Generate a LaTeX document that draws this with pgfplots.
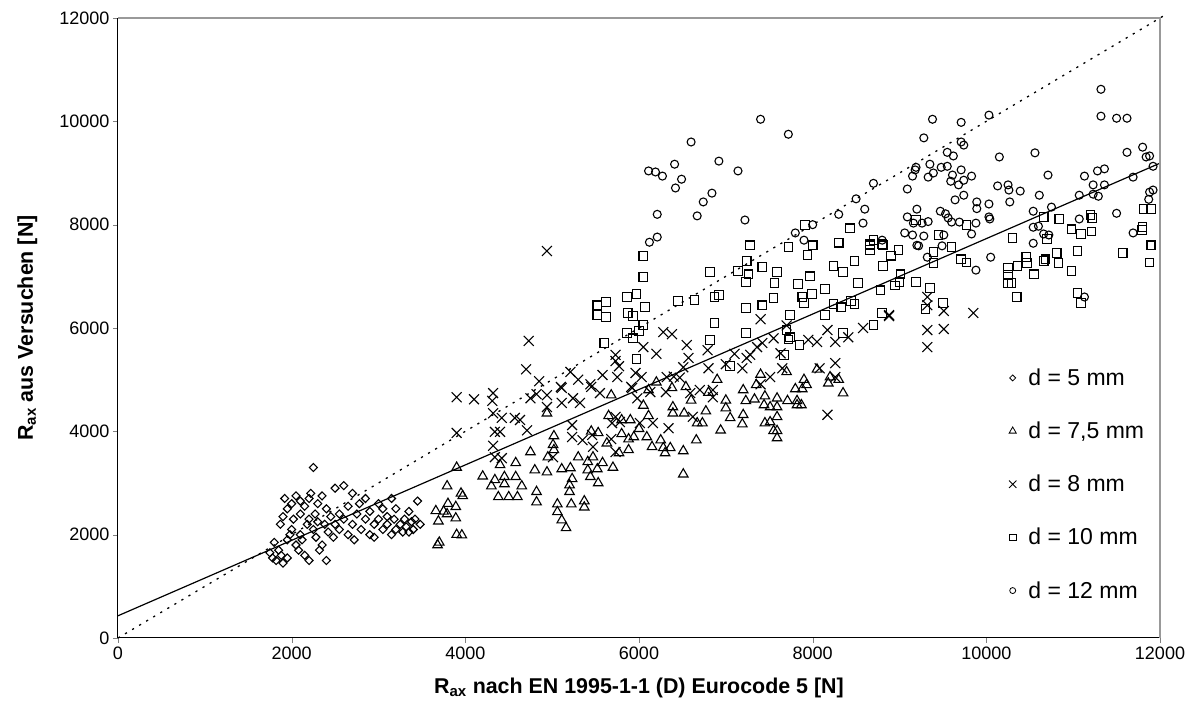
\documentclass[border=0pt]{standalone}
\usepackage{fontspec}
\setmainfont{Liberation Sans}
\usepackage{pgfplots}
\pgfplotsset{compat=1.18}
\begin{document}
\begin{tikzpicture}
\begin{axis}[
  scale only axis, width=1042pt, height=620pt,
  xmin=0, xmax=12000, ymin=0, ymax=12000,
  axis lines=left, axis line style={-, line width=1pt},
  tick align=outside, major tick length=5pt,
  xtick={0,2000,...,12000}, ytick={0,2000,...,12000},
  scaled ticks=false,
  /pgf/number format/1000 sep={},
  /pgf/number format/assume math mode=true,
  tick label style={font=\fontsize{18}{21}\selectfont},
  clip=false,
  every axis y label/.style={at={(axis description cs:-0.087,0.5)}, rotate=90, anchor=center},
  every axis x label/.style={at={(axis description cs:0.5,-0.081)}, anchor=center},
  xlabel={\fontsize{21.4}{25}\selectfont\bfseries R\textsubscript{ax} nach EN 1995-1-1 (D) Eurocode 5 [N]},
  ylabel={\fontsize{21.4}{25}\selectfont\bfseries R\textsubscript{ax} aus Versuchen [N]},
  legend style={draw=none, fill=none, at={(axis description cs:0.852,0.248)}, anchor=west,
    font=\fontsize{23}{26}\selectfont, row sep=31pt, legend cell align=left,
    /tikz/every odd column/.append style={column sep=10pt}},
  legend image code/.code={\draw[mark repeat=2,mark phase=2,#1,mark size=0.75*\pgfplotmarksize,line width=0.8pt] plot coordinates {(0pt,0pt) (6pt,0pt) (12pt,0pt)};},
]
% d = 5 mm
\addplot[only marks, mark=diamond, mark size=4pt, mark options={xscale=1.33}, line width=1.1pt] coordinates {
(1750,1650)(1780,1550)(1800,1850)(1820,1500)(1850,1700)(1870,2200)(1880,1600)(1900,1450)(1900,2350)(1920,2700)
(1950,2500)(1950,1550)(1980,2000)(2000,2100)(2000,2600)(2020,2300)(2050,1800)(2050,2750)(2080,1700)(2100,2400)
(2100,2000)(2120,1900)(2150,1600)(2150,2550)(2180,2200)(2200,2300)(2200,2700)(2220,2800)(2250,3300)(2250,2100)
(2270,2400)(2280,1950)(2300,2250)(2300,2600)(2320,1700)(2350,1800)(2350,2750)(2380,2200)(2400,2500)(2420,2050)
(2450,2350)(2480,1950)(2500,2900)(2500,2200)(2550,2100)(2550,2400)(2600,2300)(2650,2000)(2650,2550)(2700,2200)
(2700,2800)(2720,1900)(2750,2400)(2780,2600)(2800,2100)(2850,2300)(2850,2700)(2900,2000)(2900,2450)(2950,2200)
(2950,1950)(3000,2600)(3000,2300)(3050,2100)(3050,2500)(3100,2200)(3100,2350)(3150,2000)(3180,2300)(3200,2100)
(3200,2500)(3250,2200)(3280,2050)(3300,2300)(3320,2150)(3350,2450)(3380,2250)(3400,2100)(3420,2300)(3450,2650)
(3480,2200)(3350,2050)(3150,2700)(2600,2950)(2400,1500)(2200,1500)(1950,1900)(2100,2650)
};
\addlegendentry{d = 5 mm}
% d = 7,5 mm
\addplot[only marks, mark=triangle, mark size=5.5pt, line width=1.1pt] coordinates {
(3700,1850)(3680,1800)(3750,2450)(3800,2600)(3900,2000)(3950,2800)(3900,3300)(4200,3130)(3790,2940)(3970,2750)
(4340,3060)(4300,2940)(4450,3120)(4580,3120)(4450,2980)(4650,2940)(4380,2730)(4500,2730)(4600,2730)(4580,3390)
(4750,3600)(4820,2830)(4820,2630)(3660,2460)(3790,2400)(3890,2540)(3690,2260)(3890,2320)(3960,1990)
(4940,4350)(5020,3910)(5010,3740)(5020,3640)(4940,3210)(5110,3270)(5210,3290)(5230,3080)(5200,2960)(5200,2830)
(5060,2590)(5220,2590)(5370,2650)(5370,2530)(5060,2440)(5110,2280)(5160,2130)(5410,3410)(5410,3250)(5440,3120)
(5520,3270)(5530,3000)(5470,3500)(5530,3970)(5580,3390)(5630,3770)(5770,3580)(5880,3640)(5880,3850)(5940,3890)
(6090,3890)(5900,4220)(6110,4300)(6250,3830)(6280,3680)(6300,3580)(6360,3680)(6510,3620)(6510,3170)(6390,4350)
(6390,4470)(6520,4350)(6670,4160)(6660,3830)(6730,4160)(6770,4390)(6940,4020)(7050,4260)(7000,4600)(6540,4860)
(6380,4840)(6110,4800)(5680,4700)(5800,4220)
(7200,4800)(7230,4590)(7330,4620)(7450,4680)(7440,4510)(7510,4470)(7590,4640)(7710,4590)(7590,4470)(7590,4280)
(7450,4160)(7510,4180)(7550,4010)(7590,4010)(7590,3870)(7200,4320)(7190,4140)(7800,4820)(7880,4820)(7930,4900)
(7820,4590)(7870,4510)(7820,4510)(8180,4930)(8350,4740)(8300,5000)(8200,5050)(8050,5200)(7700,5150)(7400,5100)
(6900,5000)(6200,4950)(5650,4300)(5450,4000)(5300,3500)(5700,3300)(6000,4050)(6150,3700)(6600,4600)(6800,4750)
(7000,4450)(7350,4900)(7900,5000)(4950,3500)(4400,3350)(4800,3250)(5800,3950)(6050,4500)
};
\addlegendentry{d = 7,5 mm}
% d = 8 mm
\addplot[only marks, mark=x, mark size=7pt, line width=1.1pt] coordinates {
(3900,4660)(4100,4620)(4320,4740)(4310,4590)(4320,4350)(4420,4260)(3900,3970)(4340,3990)(4400,3990)(4320,3720)
(4340,3500)(4420,3480)(4570,4260)(4630,4220)(4710,4020)(4750,4640)(4820,4720)
(4940,7490)(4730,5750)(4700,5200)(4850,4970)(5210,5150)(5100,4860)(5730,5480)(5730,5360)(5770,5260)(5750,5050)
(5580,5090)(6050,5630)(6280,5920)(6380,5880)(5960,5130)(6030,5050)(6550,5670)(6570,5420)(6510,5240)(6320,5050)
(6400,5060)(6470,5040)(5440,4910)(5910,4860)
(7400,6170)(7420,5710)(7360,5630)(7280,5480)(7240,5420)(7630,5510)(7650,5220)(7950,5770)(8050,5730)(8170,5960)
(8260,5730)(8410,5820)(8580,6000)(8880,6250)(8260,5320)(8080,5220)(6790,5570)(6800,5220)(7190,5220)
(7510,5050)(7400,4910)(8260,5050)(8170,4320)
(9320,6600)(9320,5960)(9510,5980)(9320,5630)(9510,6330)(9850,6290)(8880,6230)(9320,6440)
(5110,4840)(4940,4700)(5110,4550)(5240,4640)(5320,4550)(5450,4860)(5550,4740)(4940,4470)(5230,4120)(5230,3890)
(5350,3830)(5460,3930)(5470,3700)(5010,3500)(5730,4280)(5780,4180)(5690,4160)(5920,4840)(5980,4640)(6130,4760)
(6010,4160)(6160,4160)(6340,4060)(6310,4760)(6590,4740)(6700,4800)(6850,4800)(6620,4280)(6850,4660)(5730,3600)
(5680,3850)(7000,5300)(7100,5500)(7550,5800)(7700,6050)(6200,5500)(5300,5000)
};
\addlegendentry{d = 8 mm}
% d = 10 mm
\addplot[only marks, mark=square, mark size=4.3pt, line width=1.1pt] coordinates {
(6050,7390)(6050,6990)(5520,6440)(5620,6500)(5520,6250)(5620,6210)(5860,6600)(5970,6660)(6070,6410)(5870,6290)
(5930,6230)(6050,6060)(6000,5940)(5860,5900)(5930,5800)(5600,5710)(5970,5400)(6450,6520)(6640,6540)
(7280,7600)(7720,7570)(7940,7410)(7240,7300)(7420,7180)(6820,7080)(7140,7100)(7260,7040)(7230,6890)(7590,7080)
(7560,6870)(7830,6850)(7970,7000)(6870,6600)(6920,6640)(7550,6580)(7420,6440)(7230,6390)(7880,6600)(7900,6480)
(7990,6660)(8140,6750)(8240,7200)(8350,7080)(8480,7300)(8520,6870)(8780,6730)(8950,6820)(8240,6460)(8330,6400)
(8480,6460)(8440,6520)(8140,6250)(7740,6250)(6870,6100)(7230,5900)(6820,5770)(7700,5960)(7740,5820)(7720,5780)
(7850,5670)(7670,5480)(8350,5900)(8700,6060)(8800,6290)(8800,7620)(7050,5260)(8660,7510)(8660,7600)
(8990,7510)(8810,7200)(9010,7040)(9000,6890)(9190,6890)(9350,6770)(9390,7470)(9390,7260)(9600,7570)(9710,7330)
(9770,7270)(9500,6480)(9300,6370)(10250,7160)(10250,7030)(10250,6870)(10290,6870)(10350,6600)(10360,7200)(10470,7260)
(10460,7370)(10550,7040)(10660,7300)(10680,7330)(10810,7450)(10830,7260)(10980,7100)(11050,7490)(11050,6680)(11090,6480)
(11570,7450)(11890,7600)(11880,7270)
(9190,8090)(9450,7800)(9770,7990)(10300,7740)(10660,8150)(10840,8110)(10980,7910)(11090,7820)(11200,8190)(11220,8130)
(11210,7870)(10700,7720)(11810,8300)(11900,8300)(11800,7950)(11790,7900)(11900,7600)(8810,7600)(8660,7620)
(7910,7990)(8430,7930)(8000,7600)(8300,7650)(8700,7700)(8900,7400)
};
\addlegendentry{d = 10 mm}
% d = 12 mm
\addplot[only marks, mark=o, mark size=4pt, line width=1.1pt] coordinates {
(7400,10040)(7720,9750)(6600,9600)(6410,9170)(6110,9040)(6190,9020)(6270,8940)(6920,9230)(7140,9040)(6490,8880)
(6420,8710)(6840,8610)(6740,8440)(6670,8170)(6210,8200)(7220,8090)(6210,7760)(6120,7660)(7800,7840)
(11320,10620)(11320,10100)(11500,10060)(11620,10060)(10030,10120)(9380,10040)(9710,9980)(9280,9680)(9710,9600)(9740,9540)
(9550,9400)(9620,9330)(10150,9310)(10560,9390)(11620,9400)(11800,9500)(11840,9310)(11880,9330)(11920,9130)(9190,9110)
(9180,9060)(9350,9170)(9480,9110)(9550,9130)(9150,8940)(9330,8920)(9390,9000)(9610,8960)(9710,9060)(9830,8940)
(9590,8840)(9680,8770)(9740,8860)(9090,8690)(10710,8960)(11130,8940)(11280,9040)(11360,9080)(11690,8920)(10130,8750)
(10250,8770)(10260,8670)(10390,8650)(11230,8770)(11360,8770)(11230,8590)(11290,8550)(11880,8630)(11920,8670)(11870,8490)
(9740,8570)(9640,8480)(10610,8570)(11070,8570)(10270,8440)(9890,8440)(9890,8310)(10030,8400)(10750,8340)(9200,8300)
(9470,8260)(9530,8210)(10540,8260)(10030,8150)(10040,8110)(9090,8150)(9560,8130)(9600,8050)(9690,8050)(9160,8030)
(9260,8030)(9330,8060)(9880,8030)(11500,8220)(10600,7970)(10540,7950)(11070,8110)(9060,7840)(9150,7800)(9280,7780)
(9510,7800)(9830,7820)(10660,7820)(10720,7800)(11690,7840)(10540,7640)(9200,7600)(8580,8030)
(9220,7590)(9320,7370)(9490,7590)(9880,7120)(10050,7370)(11130,6600)
(8500,8500)(8600,8300)(8300,8200)(8000,8000)(7900,7700)(8700,8800)(8800,7700)
};
\addlegendentry{d = 12 mm}
% lines
\addplot[black, line width=1.3pt, dash pattern=on 2.2pt off 6pt, forget plot] coordinates {(0,0) (12080,12080)};
\addplot[black, line width=1.2pt, forget plot] coordinates {(0,430) (12000,9190)};
\draw[gray!80, line width=1.5pt] (rel axis cs:0,1) -- (rel axis cs:1,1) -- (rel axis cs:1,0);
\end{axis}
\path ([shift={(-118pt,-79pt)}]current axis.south west) rectangle ([shift={(34pt,18pt)}]current axis.north east);
\end{tikzpicture}
\end{document}
